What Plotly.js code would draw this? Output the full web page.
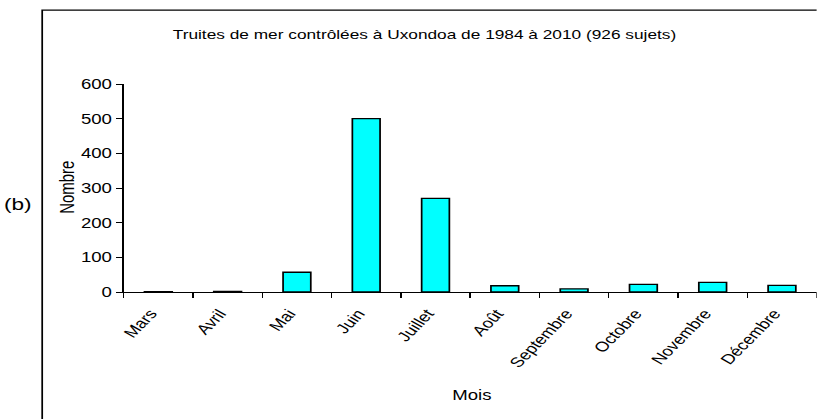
<!DOCTYPE html>
<html>
<head>
<meta charset="utf-8">
<script src="https://cdn.plot.ly/plotly-3.0.1.min.js"></script>
<style>
html,body{margin:0;padding:0;background:#fff;overflow:hidden;}
#wrap{width:817px;height:419px;overflow:hidden;}
#chart{transform-origin:0 0;}
</style>
</head>
<body>
<div id="wrap"><div id="chart"></div></div>
<script>
const months = ["Mars","Avril","Mai","Juin","Juillet","Août","Septembre","Octobre","Novembre","Décembre"];
const counts = [1, 2, 57, 500, 270, 18, 9, 22, 28, 19];
const yTicks = [0, 100, 200, 300, 400, 500, 600];
const titleText = "Truites de mer contrôlées à Uxondoa de 1984 à 2010 (926 sujets)";

const font = "Liberation Sans, Arial, sans-serif";
// the reference picture is stretched horizontally; draw narrower and stretch
const S = 1.33;
const W = 817 / S, H = 419;
document.getElementById("chart").style.transform = "scaleX(" + S + ")";

// helpers: reference pixel -> paper fraction (plot area 124..817 x, 84..292.5 y)
const px = v => (v - 124) / 693;
const py = v => (292.5 - v) / 208.5;

const trace = {
  type: "bar",
  x: months,
  y: counts,
  marker: {color: "#00FFFF", line: {color: "#000000", width: 1.3}},
  hoverinfo: "x+y"
};

const layout = {
  width: W, height: H,
  margin: {l: 124 / S, r: 0, t: 84, b: 126.5, pad: 0},
  paper_bgcolor: "#ffffff",
  plot_bgcolor: "#ffffff",
  font: {family: font, size: 13, color: "#000"},
  bargap: 0.6,
  showlegend: false,
  title: {text: titleText, font: {family: font, size: 13, color: "#000"},
          xref: "container", x: 424.5 / 817, xanchor: "center",
          yref: "container", y: 1 - 34 / 419, yanchor: "middle"},
  xaxis: {
    type: "category",
    tickangle: -53,
    ticks: "outside", ticklen: 5, tickcolor: "#000", tickwidth: 1,
    tickson: "boundaries",
    showline: true, linecolor: "#000", linewidth: 1,
    showgrid: false, zeroline: false,
    tickfont: {family: font, size: 14},
    ticklabelstandoff: 7,
    ticklabelshift: -6,
    range: [-0.5, 9.5]
  },
  yaxis: {
    range: [0, 600],
    tickvals: yTicks,
    ticktext: yTicks.map(String),
    ticks: "outside", ticklen: 5, tickcolor: "#000", tickwidth: 1,
    showline: true, linecolor: "#000", linewidth: 1,
    showgrid: false, zeroline: false,
    tickfont: {family: font, size: 14}
  },
  annotations: [
    {text: "Nombre", xref: "paper", yref: "paper", x: px(67), y: py(188),
     showarrow: false, textangle: -90, xanchor: "center", yanchor: "middle", font: {family: font, size: 15}},
    {text: "Mois", xref: "paper", yref: "paper", x: px(472), y: py(396),
     showarrow: false, xanchor: "center", yanchor: "middle", font: {family: font, size: 14}},
    {text: "(b)", xref: "paper", yref: "paper", x: px(18), y: py(205),
     showarrow: false, xanchor: "center", yanchor: "middle", font: {family: font, size: 17}}
  ],
  shapes: [
    {type: "rect", xref: "paper", yref: "paper",
     x0: px(42.5), x1: 1.3, y0: -0.8, y1: py(10),
     line: {color: "#000", width: 1.3}, fillcolor: "rgba(0,0,0,0)", layer: "below"}
  ]
};

Plotly.newPlot("chart", [trace], layout, {displayModeBar: false, staticPlot: true});
</script>
</body>
</html>
